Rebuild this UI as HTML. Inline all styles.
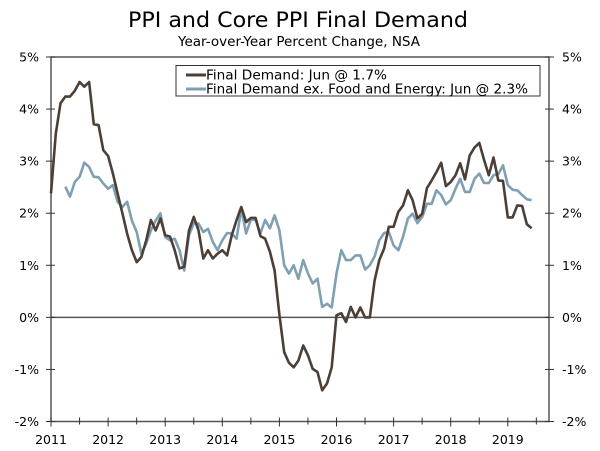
<!DOCTYPE html>
<html><head><meta charset="utf-8"><style>
html,body{margin:0;padding:0;background:#fff;}
svg{display:block;font-family:"DejaVu Sans","Liberation Sans",sans-serif;}
</style></head><body>
<svg id="chart" width="600" height="451" viewBox="0 0 600 451">
<text x="128" y="27" textLength="340" lengthAdjust="spacingAndGlyphs" font-size="21" fill="#000">PPI and Core PPI Final Demand</text>
<text x="178" y="46" textLength="242" lengthAdjust="spacingAndGlyphs" font-size="13" fill="#000">Year-over-Year Percent Change, NSA</text>
<g id="axes"></g>
<g id="series"></g>
<g>
<rect x="176" y="65.5" width="364" height="30.5" fill="#fff" stroke="#333" stroke-width="1"/>
<line x1="186" y1="75" x2="206" y2="75" stroke="#4b3f36" stroke-width="3"/>
<text x="206" y="79.5" textLength="181" lengthAdjust="spacingAndGlyphs" font-size="13">Final Demand: Jun @ 1.7%</text>
<line x1="186" y1="89" x2="206" y2="89" stroke="#7f9fb3" stroke-width="3"/>
<text x="206" y="93.5" textLength="322" lengthAdjust="spacingAndGlyphs" font-size="13">Final Demand ex. Food and Energy: Jun @ 2.3%</text>
</g>
</svg>
<script>
const years = [2011,2012,2013,2014,2015,2016,2017,2018,2019];
const yTicks = [5,4,3,2,1,0,-1,-2];
const finalDemand = [2.38,3.53,4.11,4.24,4.24,4.35,4.52,4.43,4.52,3.71,3.69,3.21,3.1,2.76,2.38,2.0,1.61,1.29,1.06,1.16,1.48,1.87,1.67,1.90,1.58,1.55,1.29,0.94,0.97,1.67,1.93,1.67,1.13,1.29,1.13,1.22,1.29,1.19,1.58,1.87,2.12,1.83,1.91,1.91,1.56,1.51,1.26,0.90,0.05,-0.67,-0.87,-0.96,-0.83,-0.54,-0.73,-0.99,-1.05,-1.40,-1.27,-0.96,0.04,0.08,-0.09,0.2,0.0,0.19,0.0,0.0,0.71,1.1,1.32,1.74,1.74,2.03,2.15,2.44,2.25,1.90,1.99,2.48,2.63,2.79,2.97,2.52,2.6,2.73,2.96,2.65,3.11,3.26,3.35,3.03,2.73,3.07,2.63,2.62,1.92,1.92,2.15,2.14,1.79,1.71];
const coreStart = 3;
const coreDemand = [2.51,2.32,2.6,2.70,2.97,2.89,2.70,2.69,2.57,2.47,2.54,2.22,2.12,2.22,1.86,1.64,1.22,1.42,1.67,1.86,2.0,1.54,1.48,1.51,1.29,0.9,1.58,1.81,1.80,1.64,1.70,1.45,1.29,1.48,1.62,1.61,1.51,2.09,1.61,1.88,1.87,1.61,1.87,1.71,1.96,1.67,1.0,0.84,1.0,0.74,1.1,0.84,0.65,0.74,0.20,0.26,0.19,0.84,1.29,1.1,1.1,1.19,1.19,0.92,1.0,1.17,1.48,1.62,1.64,1.38,1.29,1.55,1.90,1.99,1.81,1.93,2.18,2.18,2.44,2.35,2.17,2.25,2.47,2.66,2.41,2.41,2.66,2.76,2.58,2.58,2.73,2.75,2.92,2.54,2.45,2.44,2.35,2.27,2.25];

const NS='http://www.w3.org/2000/svg';
const X0=51, X1=549, YT=57, YB=421.5;
const monthPx=57.1/12;
function xPos(i){return X0+i*monthPx;}
function yPos(v){return YT+(5-v)*(YB-YT)/7;}
function mk(tag,attrs,parent){const e=document.createElementNS(NS,tag);for(const k in attrs)e.setAttribute(k,attrs[k]);parent.appendChild(e);return e;}
const axes=document.getElementById('axes');
const series=document.getElementById('series');

const frame=mk('rect',{x:X0,y:YT,width:X1-X0,height:YB-YT,fill:'none',stroke:'#555','stroke-width':1.5},axes);


const zl=mk('line',{x1:X0,x2:X1,y1:yPos(0),y2:yPos(0),stroke:'#555','stroke-width':1.5},axes);



yTicks.forEach(v=>{
  const y=yPos(v);
  mk('line',{x1:X0-5,x2:X0+4,y1:y,y2:y,stroke:'#333'},axes);
  mk('line',{x1:X1-4,x2:X1+5,y1:y,y2:y,stroke:'#333'},axes);
  const l=mk('text',{x:39,y:y+4.5,'text-anchor':'end','font-size':12.5},axes);
  l.textContent=v+'%';
  
  
  const r=mk('text',{x:562,y:y+4.5,'text-anchor':'start','font-size':12.5},axes);
  r.textContent=v+'%';
  
  
});
years.forEach((yr,k)=>{
  const x=xPos(k*12);
  mk('line',{x1:x,x2:x,y1:YB-4,y2:YB+5,stroke:'#333'},axes);
  const xm=xPos(k*12+6);
  if(xm<X1) mk('line',{x1:xm,x2:xm,y1:YB-4,y2:YB+3,stroke:'#333'},axes);
  const t=mk('text',{x:x,y:444,'text-anchor':'middle','font-size':12.5},axes);
  t.textContent=yr;
  
  
});

const corePts=coreDemand.map((v,i)=>xPos(i+coreStart).toFixed(1)+','+yPos(v).toFixed(1)).join(' ');
const cl=mk('polyline',{points:corePts,fill:'none',stroke:'#7f9fb3','stroke-width':2.6,'stroke-linejoin':'round'},series);


const fdPts=finalDemand.map((v,i)=>xPos(i).toFixed(1)+','+yPos(v).toFixed(1)).join(' ');
const fl=mk('polyline',{points:fdPts,fill:'none',stroke:'#4b3f36','stroke-width':2.6,'stroke-linejoin':'round'},series);


</script>
</body></html>
